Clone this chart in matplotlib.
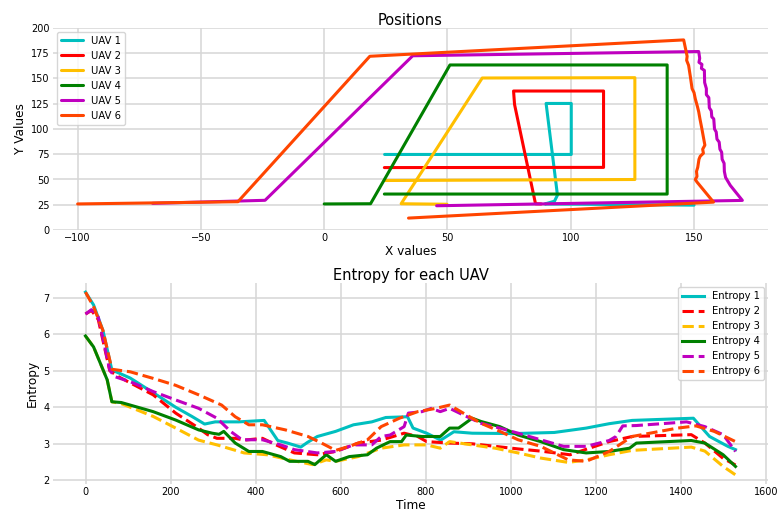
import matplotlib
matplotlib.use("Agg")
import matplotlib.pyplot as plt

# ---- UAV flight paths (x, y) ----
uav1_x = [24.5, 100.2, 100.2, 90.0, 94.6, 93.4, 89.5, 150.0]
uav1_y = [74.8, 74.8, 125.3, 125.3, 34.5, 28.5, 25.8, 24.6]

uav2_x = [24.4, 113.3, 113.3, 76.8, 77.2, 85.7, 88.0]
uav2_y = [61.8, 62.0, 137.6, 137.6, 124.3, 26.0, 25.8]

uav3_x = [24.4, 126.0, 126.0, 64.1, 31.2, 49.8]
uav3_y = [49.0, 50.0, 150.8, 150.5, 26.0, 25.5]

uav4_x = [0.0, 18.8, 51.0, 139.1, 139.1, 24.4]
uav4_y = [25.8, 26.0, 163.4, 163.4, 35.6, 35.6]

uav5_x = [-69.6, -24.0, 35.9, 151.9, 152.3, 152.0, 153.2, 153.0, 154.2, 154.3,
          155.0, 155.0, 156.0, 156.2, 157.0, 157.2, 158.0, 158.3, 159.0, 159.3,
          160.2, 160.5, 161.2, 161.4, 162.2, 162.3, 162.8, 164.7, 169.6, 45.6]
uav5_y = [26.4, 29.4, 172.5, 176.7, 170.0, 166.0, 164.0, 160.0, 158.0, 146.0,
          140.0, 134.0, 131.0, 121.0, 118.0, 112.0, 110.0, 100.0, 97.0, 90.0,
          87.0, 80.0, 77.0, 70.0, 66.0, 58.0, 52.0, 44.2, 29.3, 24.0]

uav6_x = [-100.0, -35.0, 18.5, 145.8, 147.2, 147.0, 147.8, 148.5, 149.2, 150.0,
          150.5, 151.4, 151.9, 152.4, 153.2, 153.9, 154.4, 153.5, 153.8, 152.5,
          152.0, 151.5, 151.0, 151.2, 150.5, 151.2, 157.9, 34.2]
uav6_y = [25.8, 28.0, 172.0, 188.2, 172.0, 168.0, 163.0, 152.0, 140.0, 136.0,
          130.0, 122.0, 117.0, 110.0, 100.0, 90.6, 84.0, 80.0, 76.0, 73.0,
          70.0, 62.0, 58.0, 53.0, 50.0, 47.5, 27.6, 11.8]

# ---- entropy over time ----
ent1_t = [0, 19, 41, 62, 105, 159, 212, 250, 280, 305, 360, 420, 452, 475, 506,
          522, 545, 588, 630, 673, 706, 757, 770, 802, 835, 866, 909, 1007, 1102,
          1177, 1231, 1285, 1429, 1467, 1510, 1528]
ent1_v = [7.15, 6.8, 6.1, 5.02, 4.8, 4.4, 4.0, 3.75, 3.54, 3.6, 3.6, 3.64, 3.09,
          3.02, 2.91, 3.04, 3.2, 3.34, 3.52, 3.6, 3.72, 3.74, 3.43, 3.29, 3.1, 3.33,
          3.29, 3.28, 3.31, 3.43, 3.55, 3.64, 3.7, 3.2, 2.93, 2.84]

ent2_t = [0, 14, 30, 57, 80, 159, 212, 266, 287, 309, 352, 373, 416, 448, 491,
          545, 588, 641, 695, 749, 781, 802, 856, 909, 963, 1017, 1070, 1139,
          1177, 1231, 1285, 1424, 1456, 1499, 1528]
ent2_v = [6.55, 6.65, 6.4, 5.0, 4.82, 4.34, 3.84, 3.43, 3.25, 3.15, 3.15, 3.1,
          3.15, 2.97, 2.75, 2.7, 2.79, 3.02, 3.1, 3.29, 3.2, 3.06, 3.02, 3.0, 2.93,
          2.86, 2.8, 2.7, 2.85, 3.06, 3.2, 3.25, 3.02, 2.6, 2.42]

ent3_t = [0, 19, 51, 62, 84, 159, 212, 266, 309, 373, 427, 480, 534, 566, 588,
          641, 695, 749, 802, 834, 856, 909, 963, 1017, 1070, 1135, 1177, 1231,
          1285, 1424, 1456, 1499, 1528]
ent3_v = [5.95, 5.65, 4.75, 4.15, 4.1, 3.75, 3.43, 3.1, 2.97, 2.75, 2.7, 2.56,
          2.43, 2.56, 2.52, 2.65, 2.88, 2.97, 2.97, 2.88, 3.06, 2.97, 2.88, 2.75,
          2.61, 2.49, 2.56, 2.7, 2.82, 2.91, 2.8, 2.38, 2.15]

ent4_t = [0, 19, 51, 62, 84, 159, 212, 266, 298, 314, 325, 352, 384, 416, 459,
          480, 523, 539, 566, 588, 620, 663, 684, 716, 743, 754, 791, 834, 856,
          877, 909, 930, 974, 1017, 1070, 1124, 1177, 1231, 1279, 1295, 1424,
          1456, 1499, 1528]
ent4_v = [5.95, 5.65, 4.75, 4.15, 4.13, 3.88, 3.65, 3.38, 3.29, 3.26, 3.34, 3.02,
          2.79, 2.79, 2.65, 2.52, 2.52, 2.43, 2.7, 2.52, 2.65, 2.7, 2.88, 3.06,
          3.06, 3.24, 3.2, 3.2, 3.43, 3.43, 3.7, 3.61, 3.47, 3.24, 3.06, 2.84, 2.75,
          2.79, 2.88, 3.02, 3.09, 3.02, 2.7, 2.38]

ent5_t = [0, 14, 30, 57, 68, 105, 159, 212, 266, 309, 341, 368, 416, 459, 491,
          545, 588, 630, 673, 695, 716, 749, 759, 791, 813, 834, 856, 888, 930,
          974, 1017, 1070, 1124, 1177, 1231, 1247, 1263, 1295, 1413, 1456, 1499,
          1528]
ent5_v = [6.55, 6.67, 6.47, 5.02, 4.84, 4.7, 4.43, 4.2, 3.97, 3.7, 3.34, 3.11,
          3.11, 2.97, 2.84, 2.75, 2.79, 2.97, 2.97, 3.2, 3.24, 3.47, 3.84, 3.88,
          3.97, 3.88, 3.97, 3.79, 3.56, 3.43, 3.29, 3.11, 2.93, 2.93, 3.09, 3.2,
          3.49, 3.5, 3.6, 3.47, 3.25, 2.79]

ent6_t = [0, 19, 41, 62, 105, 159, 212, 266, 320, 352, 384, 416, 470, 523, 555,
          588, 620, 663, 695, 738, 781, 824, 856, 888, 930, 974, 1017, 1070, 1135,
          1177, 1231, 1285, 1392, 1435, 1478, 1528]
ent6_v = [7.15, 6.75, 6.1, 5.04, 4.97, 4.79, 4.6, 4.34, 4.06, 3.74, 3.52, 3.52,
          3.38, 3.2, 3.02, 2.82, 2.93, 3.11, 3.47, 3.7, 3.88, 3.97, 4.06, 3.84,
          3.56, 3.34, 3.11, 2.93, 2.56, 2.52, 2.79, 3.2, 3.43, 3.49, 3.34, 3.06]

uav_labels = ["UAV 1", "UAV 2", "UAV 3", "UAV 4", "UAV 5", "UAV 6"]
ent_labels = ["Entropy 1", "Entropy 2", "Entropy 3", "Entropy 4", "Entropy 5", "Entropy 6"]
colors = ["#00bfbf", "#ff0000", "#ffbf00", "#008000", "#bf00bf", "#ff4500"]
ent_styles = ["-", "--", "--", "-", "--", "--"]

plt.rcParams.update({
    "font.family": "DejaVu Sans",
    "axes.edgecolor": "white",
    "grid.color": "#d6d6d6",
    "grid.linewidth": 1.1,
    "xtick.major.size": 0,
    "ytick.major.size": 0,
    "xtick.major.pad": 2.5,
    "ytick.major.pad": 2.5,
    "xtick.labelsize": 7,
    "ytick.labelsize": 7,
    "legend.fontsize": 7.2,
})

fig = plt.figure(figsize=(7.79, 5.11), dpi=100)
ax1 = fig.add_axes([53 / 779, 1 - 230 / 511, 715 / 779, 202 / 511])
ax2 = fig.add_axes([53 / 779, 1 - 484 / 511, 715 / 779, 201 / 511])

paths = [(uav1_x, uav1_y), (uav2_x, uav2_y), (uav3_x, uav3_y),
         (uav4_x, uav4_y), (uav5_x, uav5_y), (uav6_x, uav6_y)]
for (px, py), lab, col in zip(paths, uav_labels, colors):
    ax1.plot(px, py, color=col, lw=2.2, label=lab, solid_capstyle="round")

ax1.set_xlim(-110, 180)
ax1.set_ylim(0, 200)
ax1.set_xticks([-100, -50, 0, 50, 100, 150])
ax1.set_yticks(range(0, 201, 25))
ax1.grid(True)
ax1.set_axisbelow(True)
ax1.set_title("Positions", fontsize=10.5, pad=2)
ax1.set_xlabel("X values", fontsize=8.7, labelpad=1)
ax1.set_ylabel("Y Values", fontsize=8.7, labelpad=3)
ax1.legend(loc="upper left", frameon=True, edgecolor="#cccccc",
           borderaxespad=0.4, handlelength=2.2)

series = [(ent1_t, ent1_v), (ent2_t, ent2_v), (ent3_t, ent3_v),
          (ent4_t, ent4_v), (ent5_t, ent5_v), (ent6_t, ent6_v)]
for (tt, vv), lab, col, ls in zip(series, ent_labels, colors, ent_styles):
    ax2.plot(tt, vv, color=col, lw=2.2, ls=ls, label=lab)

ax2.set_xticks(range(0, 1601, 200))
ax2.set_yticks(range(2, 8))
ax2.grid(True)
ax2.set_axisbelow(True)
ax2.set_title("Entropy for each UAV", fontsize=10.5, pad=2)
ax2.set_xlabel("Time", fontsize=8.7, labelpad=1)
ax2.set_ylabel("Entropy", fontsize=8.7, labelpad=3)
ax2.legend(loc="upper right", frameon=True, edgecolor="#cccccc",
           borderaxespad=0.4, handlelength=2.2)

for ax in (ax1, ax2):
    for s in ax.spines.values():
        s.set_visible(False)

fig.savefig("out.png", dpi=100)
